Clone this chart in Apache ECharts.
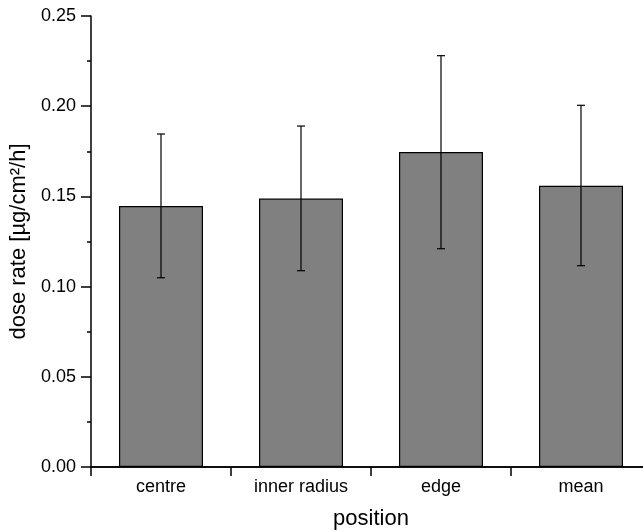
<!DOCTYPE html>
<html>
<head>
<meta charset="utf-8">
<script src="https://cdn.jsdelivr.net/npm/echarts@6/dist/echarts.min.js"></script>
<style>
html,body{margin:0;padding:0;background:#fff;}
#chart{width:643px;height:532px;}
</style>
</head>
<body>
<div id="chart"></div>
<script>
const categories = ['centre', 'inner radius', 'edge', 'mean'];
const values = [0.1447, 0.1488, 0.1746, 0.1559];
const errLower = [0.1049, 0.1088, 0.1210, 0.1116];
const errUpper = [0.1846, 0.1890, 0.2280, 0.2005];
const yTicks = [0, 0.05, 0.10, 0.15, 0.20, 0.25];

const FONT = '"Liberation Sans", Arial, sans-serif';
const chart = echarts.init(document.getElementById('chart'), null, {renderer: 'canvas'});

const errData = categories.map((c, i) => [i, errLower[i], errUpper[i]]);

chart.setOption({
  backgroundColor: '#ffffff',
  animation: false,
  grid: {left: 91, top: 16, width: 560, bottom: 65, containLabel: false, outerBoundsMode: 'none'},
  xAxis: [{
    type: 'category',
    data: categories,
    boundaryGap: true,
    name: 'position',
    nameLocation: 'middle',
    nameGap: 41,
    nameTextStyle: {fontFamily: FONT, fontSize: 22, color: '#000'},
    axisLine: {show: true, onZero: false, lineStyle: {color: '#000', width: 1.5}},
    axisTick: {show: true, alignWithLabel: false, length: 9, inside: false, lineStyle: {color: '#000', width: 1.5}},
    axisLabel: {fontFamily: FONT, fontSize: 18, color: '#000', margin: 11},
    splitLine: {show: false}
  }, {
    type: 'category',
    data: categories,
    position: 'top',
    axisLine: {show: true, lineStyle: {color: '#000', width: 1.5}},
    axisTick: {show: false},
    axisLabel: {show: false},
    splitLine: {show: false}
  }],
  yAxis: {
    type: 'value',
    min: 0,
    max: 0.25,
    interval: 0.05,
    name: 'dose rate [µg/cm²/h]',
    nameLocation: 'middle',
    nameGap: 50,
    nameTextStyle: {fontFamily: FONT, fontSize: 22, color: '#000'},
    axisLine: {show: true, lineStyle: {color: '#000', width: 1.5}},
    axisTick: {show: true, length: 10, inside: false, lineStyle: {color: '#000', width: 1.5}},
    minorTick: {show: true, splitNumber: 2, length: 4, lineStyle: {color: '#000', width: 1.5}},
    axisLabel: {fontFamily: FONT, fontSize: 18, color: '#000', margin: 15,
      formatter: v => {
        const t = yTicks.find(x => Math.abs(x - v) < 1e-9);
        return (t !== undefined ? t : v).toFixed(2);
      }},
    splitLine: {show: false}
  },
  series: [{
    type: 'bar',
    data: values,
    barWidth: '60%',
    itemStyle: {color: '#808080', borderColor: '#000', borderWidth: 1.2},
    z: 2
  }, {
    type: 'custom',
    data: errData,
    z: 3,
    renderItem: function (params, api) {
      const x = api.value(0);
      const lo = api.coord([x, api.value(1)]);
      const hi = api.coord([x, api.value(2)]);
      const hw = 4;
      const st = {stroke: '#000', lineWidth: 1.2};
      return {
        type: 'group',
        children: [
          {type: 'line', shape: {x1: hi[0], y1: hi[1], x2: lo[0], y2: lo[1]}, style: st},
          {type: 'line', shape: {x1: hi[0] - hw, y1: hi[1], x2: hi[0] + hw, y2: hi[1]}, style: st},
          {type: 'line', shape: {x1: lo[0] - hw, y1: lo[1], x2: lo[0] + hw, y2: lo[1]}, style: st}
        ]
      };
    }
  }]
});
</script>
</body>
</html>
